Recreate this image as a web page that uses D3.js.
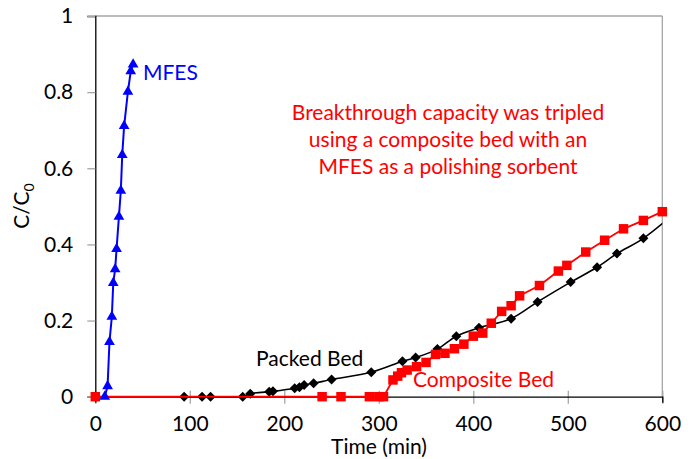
<!DOCTYPE html>
<html>
<head>
<meta charset="utf-8">
<script src="https://cdn.jsdelivr.net/npm/d3@7"></script>
<style>
  html, body { margin: 0; padding: 0; background: #fff; }
  svg text { font-family: Lato, "Open Sans", sans-serif; }
</style>
</head>
<body>
<svg id="chart" width="696" height="459"></svg>
<script>
// ---- data ----
const mfesTime = [10, 13, 15, 17.5, 19, 21, 22.5, 25, 27, 28.5, 30.5, 34.5, 37.5, 40];
const mfesC    = [0, 0.028, 0.144, 0.21, 0.299, 0.335, 0.388, 0.473, 0.541, 0.635, 0.711, 0.801, 0.855, 0.873];

const packedTime = [94, 113, 122, 156, 164, 184, 188, 211, 216, 221, 231, 250, 292, 325, 339, 362, 382, 406, 440, 468, 503, 531, 552, 580, 620];
const packedC    = [0, 0, 0, 0, 0.008, 0.013, 0.014, 0.022, 0.025, 0.031, 0.035, 0.045, 0.064, 0.093, 0.103, 0.125, 0.159, 0.181, 0.205, 0.249, 0.301, 0.340, 0.376, 0.416, 0.497];

const compTime = [0, 240, 260, 290, 300, 305, 315, 320, 324, 330, 340, 350, 360, 370, 380, 390, 400, 410, 419, 430, 440, 449, 470, 490, 499, 519, 539, 559, 580, 600];
const compC    = [0, 0, 0, 0, 0, 0, 0.044, 0.054, 0.063, 0.070, 0.079, 0.090, 0.111, 0.114, 0.126, 0.138, 0.159, 0.167, 0.193, 0.224, 0.239, 0.265, 0.292, 0.330, 0.345, 0.380, 0.411, 0.441, 0.463, 0.486];

const xTicks = [0, 100, 200, 300, 400, 500, 600];
const yTicks = [0, 0.2, 0.4, 0.6, 0.8, 1];
const annotationLines = ["Breakthrough capacity was tripled", "using a composite bed with an", "MFES as a polishing sorbent"];

// ---- layout ----
const svg = d3.select("#chart");
const L = 95.3, R = 662.3, T = 16, B = 396.7;
const x = d3.scaleLinear().domain([0, 600]).range([L, R]);
const y = d3.scaleLinear().domain([0, 1]).range([B, T]);
const fontSize = 21;
const gray = "#a6a6a6";

svg.append("defs").append("clipPath").attr("id", "plotclip")
  .append("rect").attr("x", L).attr("y", T - 10).attr("width", R - L).attr("height", B - T + 20);

// borders top/right (gray)
svg.append("line").attr("x1", L).attr("x2", R).attr("y1", T).attr("y2", T).attr("stroke", gray).attr("stroke-width", 1.3);
svg.append("line").attr("x1", R).attr("x2", R).attr("y1", T).attr("y2", B).attr("stroke", gray).attr("stroke-width", 1.3);

// x axis
const xAxis = svg.append("g").attr("transform", `translate(0,${B})`)
  .call(d3.axisBottom(x).tickValues(xTicks).tickSize(6).tickPadding(13).tickFormat(d3.format("d")));
xAxis.select(".domain").attr("stroke", "#000").attr("stroke-width", 1.3);
xAxis.selectAll(".tick line").attr("stroke", gray).attr("stroke-width", 1.3).attr("y1", -6).attr("y2", 7);
xAxis.selectAll(".tick text").attr("font-size", fontSize).attr("fill", "#000").attr("font-family", "Lato");

// y axis
const yAxis = svg.append("g").attr("transform", `translate(${L},0)`)
  .call(d3.axisLeft(y).tickValues(yTicks).tickSize(8).tickPadding(14).tickFormat(d => d === 0 || d === 1 ? d3.format("d")(d) : d3.format(".1f")(d)));
yAxis.select(".domain").attr("stroke", "#000").attr("stroke-width", 1.3);
yAxis.selectAll(".tick line").attr("stroke", gray).attr("stroke-width", 1.3);
yAxis.selectAll(".tick text").attr("font-size", fontSize).attr("fill", "#000").attr("font-family", "Lato");
xAxis.select(".domain").raise();

// axis titles
svg.append("text").attr("x", 379).attr("y", 454).attr("text-anchor", "middle")
  .attr("font-size", fontSize).text("Time (min)");
const yt = svg.append("text").attr("transform", "translate(29,206) rotate(-90)").attr("text-anchor", "middle")
  .attr("font-size", fontSize);
yt.append("tspan").text("C/C");
yt.append("tspan").attr("font-size", 14).attr("dy", 5).text("0");

// series
function pts(xs, ys) { return xs.map((t, i) => [t, ys[i]]); }
const packed = pts(packedTime, packedC);
const comp = pts(compTime, compC);
const mfes = pts(mfesTime, mfesC);

const lineStraight = d3.line().x(d => x(d[0])).y(d => y(d[1]));
const lineSmooth = d3.line().x(d => x(d[0])).y(d => y(d[1])).curve(d3.curveCatmullRom.alpha(0.5));

// Packed bed (black, smoothed)
const gp = svg.append("g").attr("clip-path", "url(#plotclip)");
gp.append("path").datum(packed).attr("d", lineSmooth).attr("fill", "none").attr("stroke", "#000").attr("stroke-width", 1.6);
const diamond = d3.symbol().type(d3.symbolSquare).size(50)();
gp.selectAll("path.pm").data(packed.filter(d => d[0] <= 600)).enter().append("path").attr("class", "pm")
  .attr("d", diamond).attr("transform", d => `translate(${x(d[0])},${y(d[1])}) rotate(45)`).attr("fill", "#000");

// Composite bed (red)
svg.append("path").datum(comp).attr("d", lineStraight).attr("fill", "none").attr("stroke", "#ff0000").attr("stroke-width", 1.8);
const square = d3.symbol().type(d3.symbolSquare).size(90)();
svg.selectAll("path.cm").data(comp).enter().append("path").attr("class", "cm")
  .attr("d", square).attr("transform", d => `translate(${x(d[0])},${y(d[1])})`).attr("fill", "#ff0000");

// MFES (blue)
svg.append("path").datum(mfes).attr("d", lineStraight).attr("fill", "none").attr("stroke", "#0000ff").attr("stroke-width", 2);
const tri = d3.symbol().type(d3.symbolTriangle).size(50)();
svg.selectAll("path.mm").data(mfes).enter().append("path").attr("class", "mm")
  .attr("d", tri).attr("transform", d => `translate(${x(d[0])},${y(d[1])})`).attr("fill", "#0000ff");

// labels
svg.append("text").attr("x", 143).attr("y", 80).attr("font-size", fontSize).attr("fill", "#0000ff").text("MFES");
svg.append("text").attr("x", 256).attr("y", 366).attr("font-size", fontSize).attr("fill", "#000").text("Packed Bed");
svg.append("text").attr("x", 413).attr("y", 387).attr("font-size", fontSize).attr("fill", "#ff0000").text("Composite Bed");

svg.append("g").selectAll("text").data(annotationLines).enter().append("text")
  .attr("x", 448).attr("y", (d, i) => 120 + i * 27).attr("text-anchor", "middle")
  .attr("font-size", fontSize).attr("fill", "#ff0000").text(d => d);
</script>
</body>
</html>
